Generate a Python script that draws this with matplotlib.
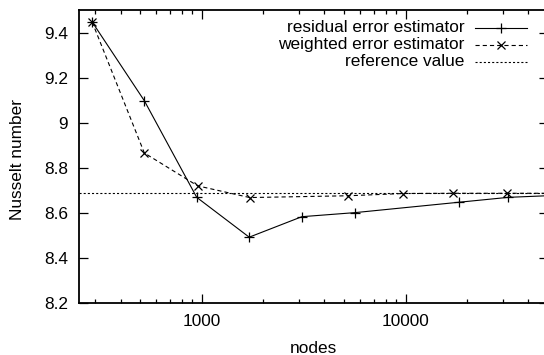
import matplotlib
matplotlib.use("Agg")
import matplotlib.pyplot as plt
from matplotlib.lines import Line2D
from matplotlib.ticker import LogLocator, FixedLocator, NullFormatter, FuncFormatter

# data
res_nodes = [290, 523, 945, 1710, 3100, 5640, 18200, 32000, 56000]
res_nu = [9.447, 9.097, 8.668, 8.491, 8.582, 8.600, 8.646, 8.668, 8.677]
wei_nodes = [290, 523, 955, 1720, 5250, 9750, 17100, 31500, 56000]
wei_nu = [9.447, 8.865, 8.719, 8.667, 8.675, 8.685, 8.686, 8.686, 8.686]
ref_value = 8.687
labels = ["residual error estimator", "weighted error estimator", "reference value"]
yticks = [8.2, 8.4, 8.6, 8.8, 9.0, 9.2, 9.4]
xticks = [1000, 10000]

plt.rcParams['font.family'] = ['Liberation Sans', 'DejaVu Sans']
plt.rcParams['font.size'] = 12.4
plt.rcParams['lines.scale_dashes'] = False

fig = plt.figure(figsize=(5.44, 3.55), dpi=100)
W, H = 544, 355
ax = fig.add_axes([79 / W, 1 - 302.7 / H, (548 - 79) / W, (302.7 - 10) / H])

lw = 0.8
ax.plot(res_nodes, res_nu, color='black', lw=lw, marker='+', ms=7, mew=0.9)
ax.plot(wei_nodes, wei_nu, color='black', lw=lw, marker='x', ms=6, mew=0.9, dashes=(3, 2.2))
ax.axhline(ref_value, color='black', lw=lw, dashes=(1.5, 1.5))

ax.set_xscale('log')
ax.set_xlim(250, 50000)
ax.set_ylim(8.2, 9.5)
ax.xaxis.set_major_locator(FixedLocator(xticks))
ax.xaxis.set_major_formatter(FuncFormatter(lambda v, p: f"{int(round(v))}"))
ax.xaxis.set_minor_locator(LogLocator(base=10, subs=range(2, 10)))
ax.xaxis.set_minor_formatter(NullFormatter())
ax.set_yticks(yticks)
ax.set_yticklabels([f"{v:g}" for v in yticks])

ax.tick_params(which='major', direction='in', length=6.3, width=0.9, top=True, right=True, pad=8)
ax.tick_params(axis='x', which='major', pad=8)
ax.tick_params(which='minor', direction='in', length=3, width=0.9, top=True, right=True)
for s in ax.spines.values():
    s.set_linewidth(1.3)

ax.set_xlabel("nodes", labelpad=9)
ax.set_ylabel("Nusselt number")
ax.yaxis.set_label_coords((25 - 79) / (548 - 79), (302.7 - 160) / (302.7 - 10))

# gnuplot-style key (text right aligned, sample to the right)
def fx(px):
    return (px - 79) / (548 - 79)

def fy(py):
    return (302.7 - py) / (302.7 - 10)

rows = [28.0, 45.0, 62.0]
styles = [dict(marker='+', ms=7, mew=0.9), dict(marker='x', ms=6, mew=0.9, dashes=(3, 2.2)),
          dict(dashes=(1.5, 1.5))]
for lab, ry, st in zip(labels, rows, styles):
    ax.text(fx(464.7), fy(ry), lab, transform=ax.transAxes, ha='right', va='center')
    st = dict(st)
    mk = st.pop('marker', None)
    ms = st.pop('ms', None)
    mew = st.pop('mew', None)
    ax.add_line(Line2D([fx(475), fx(527)], [fy(ry), fy(ry)], transform=ax.transAxes,
                       color='black', lw=lw, **st))
    if mk:
        ax.add_line(Line2D([fx(501)], [fy(ry)], transform=ax.transAxes, color='black',
                           marker=mk, ms=ms, mew=mew, ls='none'))

fig.savefig("out.png", dpi=100)
